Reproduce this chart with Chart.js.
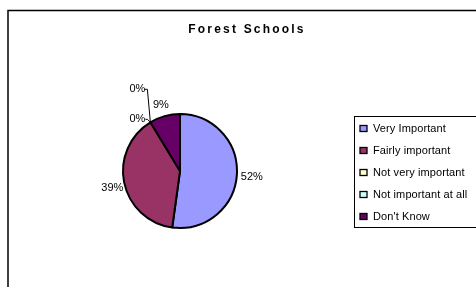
<!DOCTYPE html>
<html><head><meta charset="utf-8">
<script src="https://cdn.jsdelivr.net/npm/chart.js@4/dist/chart.umd.min.js"></script>
<style>html,body{margin:0;padding:0;background:#fff}#wrap{width:476px;height:287px;position:relative}</style>
</head><body><div id="wrap"><canvas id="c" width="476" height="287"></canvas></div>
<script>
const titleText = "Forest Schools";
const categories = ["Very Important", "Fairly important", "Not very important", "Not important at all", "Don't Know"];
const values = [12, 9, 0, 0, 2];
const percentLabels = ["52%", "39%", "0%", "0%", "9%"];
const colors = ["#9999FF", "#993366", "#FFFFCC", "#CCFFFF", "#660066"];

const FONT = '"Liberation Sans", Arial, sans-serif';

const decor = {
  id: 'decor',
  beforeDraw(chart) {
    const ctx = chart.ctx;
    ctx.save();
    ctx.fillStyle = '#fff';
    ctx.fillRect(0, 0, chart.width, chart.height);
    ctx.strokeStyle = '#000';
    ctx.lineWidth = 1.5;
    ctx.beginPath();
    ctx.moveTo(8, 300); ctx.lineTo(8, 10.5); ctx.lineTo(480, 10.5);
    ctx.stroke();
    // title
    ctx.fillStyle = '#000';
    ctx.font = 'bold 12px ' + FONT;
    ctx.letterSpacing = '2.2px';
    ctx.textAlign = 'center';
    ctx.textBaseline = 'middle';
    ctx.fillText(titleText, 247, 30);
    ctx.restore();
  },
  afterDraw(chart) {
    const ctx = chart.ctx;
    const meta = chart.getDatasetMeta(0);
    ctx.save();
    ctx.font = '11px ' + FONT;
    ctx.fillStyle = '#000';
    ctx.textBaseline = 'middle';
    ctx.letterSpacing = '0px';
    const a0 = meta.data[0];
    const cx = a0.x, cy = a0.y, r = a0.outerRadius;
    meta.data.forEach((arc, i) => {
      const mid = (arc.startAngle + arc.endAngle) / 2;
      const txt = percentLabels[i];
      if (values[i] > 0) {
        const lr = r + 4;
        const x = cx + Math.cos(mid) * lr, y = cy + Math.sin(mid) * lr;
        if (i === 4) {
          ctx.textAlign = 'center';
          ctx.fillText(txt, cx + Math.cos(mid) * (r + 14), cy + Math.sin(mid) * (r + 12));
        } else if (i === 1) {
          ctx.textAlign = 'right';
          ctx.fillText(txt, x + 3, y + 5);
        } else {
          ctx.textAlign = 'left';
          ctx.fillText(txt, x, y + 2);
        }
      } else {
        // zero slices: leader line from the arc edge
        const ex = cx + Math.cos(arc.startAngle) * r, ey = cy + Math.sin(arc.startAngle) * r;
        ctx.strokeStyle = '#000';
        ctx.lineWidth = 1;
        ctx.beginPath();
        if (i === 2) {
          ctx.moveTo(ex, ey); ctx.lineTo(ex - 3, ey - 3); ctx.lineTo(ex - 5, ey - 3);
          ctx.stroke();
          ctx.textAlign = 'right';
          ctx.fillText(txt, ex - 5, ey - 3);
        } else {
          ctx.moveTo(ex, ey); ctx.lineTo(ex - 3, ey - 33); ctx.lineTo(ex - 6, ey - 33);
          ctx.stroke();
          ctx.textAlign = 'right';
          ctx.fillText(txt, ex - 5, ey - 33);
        }
      }
    });
    // legend
    const lx = 354, ly = 116, lw = 130, lh = 111;
    ctx.strokeStyle = '#000';
    ctx.lineWidth = 1;
    ctx.strokeRect(lx + 0.5, ly + 0.5, lw, lh);
    ctx.font = '11px ' + FONT;
    ctx.letterSpacing = '0.1px';
    ctx.textAlign = 'left';
    categories.forEach((c, i) => {
      const y = 128.5 + i * 22;
      ctx.fillStyle = colors[i];
      ctx.fillRect(360, y - 3, 7, 6);
      ctx.strokeStyle = '#000';
      ctx.lineWidth = 1.3;
      ctx.strokeRect(360, y - 3, 7, 6);
      ctx.fillStyle = '#000';
      ctx.fillText(c, 373, y + 0.5);
    });
    ctx.restore();
  }
};

new Chart(document.getElementById('c'), {
  type: 'pie',
  data: {
    labels: categories,
    datasets: [{
      data: values,
      backgroundColor: colors,
      borderColor: '#000',
      borderWidth: 2,
      borderAlign: 'center'
    }]
  },
  options: {
    responsive: false,
    animation: false,
    events: [],
    layout: { padding: { left: 122, right: 238, top: 113, bottom: 58 } },
    plugins: { legend: { display: false }, title: { display: false }, tooltip: { enabled: false } }
  },
  plugins: [decor]
});
</script>
</body></html>
